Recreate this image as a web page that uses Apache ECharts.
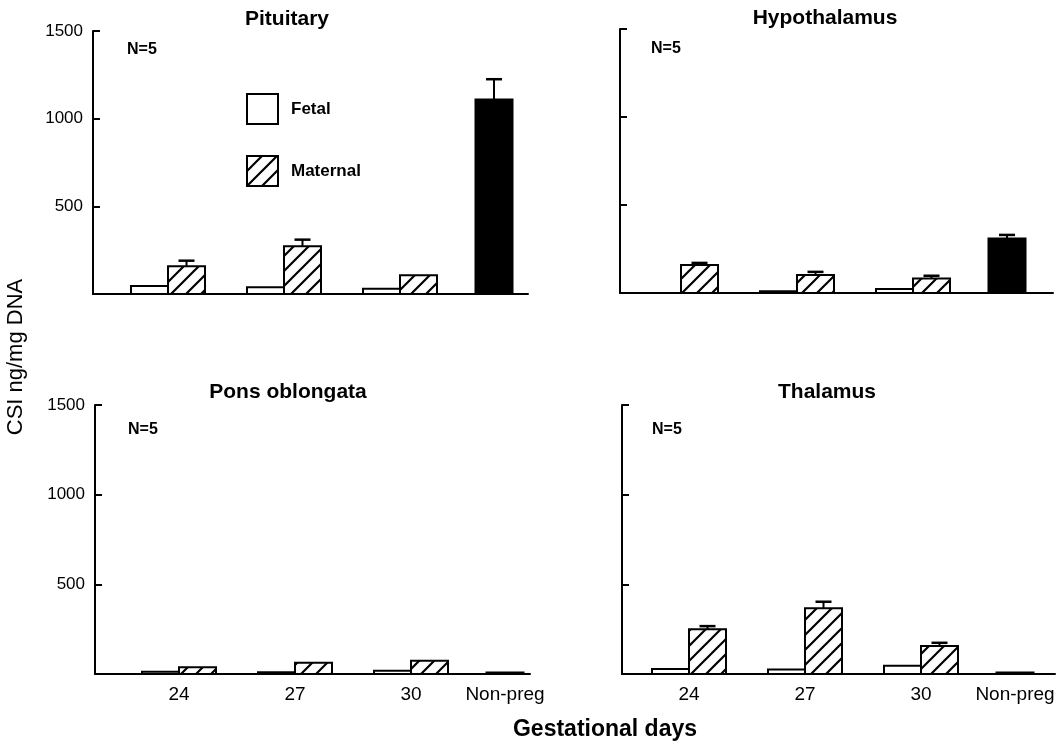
<!DOCTYPE html>
<html><head><meta charset="utf-8">
<script src="https://cdn.jsdelivr.net/npm/echarts@6/dist/echarts.min.js"></script>
<style>html,body{margin:0;padding:0;background:#fff}#c{width:1059px;height:742px}</style>
</head><body><div id="c"></div>
<script>
// ---- data ----
const categories = ['24', '27', '30', 'Non-preg'];
const panelTitles = ['Pituitary', 'Hypothalamus', 'Pons oblongata', 'Thalamus'];
const sampleSize = ['N=5', 'N=5', 'N=5', 'N=5'];
const yTicks = [0, 500, 1000, 1500];

const pituitaryFetal = [45, 38, 30];
const pituitaryMaternal = [158, 272, 107];
const pituitaryMaternalSE = [32, 38, 0];
const pituitaryNonPreg = [1110];
const pituitaryNonPregSE = [115];

const hypothalamusFetal = [0, 10, 23];
const hypothalamusMaternal = [159, 102, 83];
const hypothalamusMaternalSE = [12, 18, 15];
const hypothalamusNonPreg = [310];
const hypothalamusNonPregSE = [20];

const ponsFetal = [12, 10, 18];
const ponsMaternal = [37, 63, 74];
const ponsMaternalSE = [0, 0, 0];
const ponsNonPreg = [8];
const ponsNonPregSE = [0];

const thalamusFetal = [28, 25, 46];
const thalamusMaternal = [249, 366, 156];
const thalamusMaternalSE = [18, 37, 18];
const thalamusNonPreg = [8];
const thalamusNonPregSE = [0];

// ---- layout (axis coordinates of each category, not data) ----
const categoryPos = [0, 116, 232, 326];
const panels = [
  {fetal: pituitaryFetal, mat: pituitaryMaternal, matSE: pituitaryMaternalSE, np: pituitaryNonPreg, npSE: pituitaryNonPregSE,
   grid: {left: 93, top: 31, width: 435, height: 263}, xmin: -75, leftLabels: true, bottomLabels: false},
  {fetal: hypothalamusFetal, mat: hypothalamusMaternal, matSE: hypothalamusMaternalSE, np: hypothalamusNonPreg, npSE: hypothalamusNonPregSE,
   grid: {left: 620, top: 29, width: 433, height: 264}, xmin: -61, leftLabels: false, bottomLabels: false},
  {fetal: ponsFetal, mat: ponsMaternal, matSE: ponsMaternalSE, np: ponsNonPreg, npSE: ponsNonPregSE,
   grid: {left: 95, top: 405, width: 435, height: 269}, xmin: -84, leftLabels: true, bottomLabels: true},
  {fetal: thalamusFetal, mat: thalamusMaternal, matSE: thalamusMaternalSE, np: thalamusNonPreg, npSE: thalamusNonPregSE,
   grid: {left: 622, top: 405, width: 433, height: 269}, xmin: -67, leftLabels: false, bottomLabels: true}
];

// hatch pattern
const S = 15;
const pc = document.createElement('canvas');
pc.width = S; pc.height = S;
const g = pc.getContext('2d');
g.fillStyle = '#fff'; g.fillRect(0, 0, S, S);
g.strokeStyle = '#000'; g.lineWidth = 2.2;
g.beginPath();
g.moveTo(0, S); g.lineTo(S, 0);
g.moveTo(-2, 2); g.lineTo(2, -2);
g.moveTo(S - 2, S + 2); g.lineTo(S + 2, S - 2);
g.stroke();
const hatch = {image: pc, repeat: 'repeat'};

const BAR_W = 37;
const fills = {fetal: '#ffffff', maternal: hatch, np: '#000000'};

function makeRender(kind) {
  return function (params, api) {
    const x = api.value(0), v = api.value(1), e = api.value(2);
    if (!(v > 0)) return null;
    let x0, x1;
    if (kind === 'fetal') { x0 = x - BAR_W; x1 = x; }
    else if (kind === 'maternal') { x0 = x; x1 = x + BAR_W; }
    else { x0 = x - BAR_W / 2; x1 = x + BAR_W / 2; }
    const p0 = api.coord([x0, 0]);
    const p1 = api.coord([x1, v]);
    const children = [{
      type: 'rect',
      shape: {x: p0[0], y: p1[1], width: p1[0] - p0[0], height: p0[1] - p1[1]},
      style: {fill: fills[kind], stroke: '#000', lineWidth: 2}
    }];
    if (e > 0) {
      const pe = api.coord([x, v + e]);
      const cx = (p0[0] + p1[0]) / 2;
      children.push({type: 'line', shape: {x1: cx, y1: p1[1], x2: cx, y2: pe[1]}, style: {stroke: '#000', lineWidth: 2}});
      children.push({type: 'line', shape: {x1: cx - 8, y1: pe[1], x2: cx + 8, y2: pe[1]}, style: {stroke: '#000', lineWidth: 2.5}});
    }
    return {type: 'group', children: children};
  };
}

const grids = [], xAxes = [], yAxes = [], series = [];
panels.forEach(function (p, i) {
  grids.push(Object.assign({containLabel: false}, p.grid));
  xAxes.push({
    type: 'value', gridIndex: i, min: p.xmin, max: p.xmin + p.grid.width,
    axisLine: {show: true, onZero: false, lineStyle: {color: '#000', width: 2}},
    axisTick: {show: false}, splitLine: {show: false},
    axisLabel: {
      show: p.bottomLabels, customValues: categoryPos, margin: 11,
      color: '#000', fontSize: 19, fontFamily: 'Liberation Sans, Arial, sans-serif',
      formatter: function (val) { const k = categoryPos.indexOf(val); return k >= 0 ? categories[k] : ''; }
    }
  });
  yAxes.push({
    type: 'value', gridIndex: i, min: yTicks[0], max: yTicks[yTicks.length - 1], interval: 500,
    axisLine: {show: true, onZero: false, lineStyle: {color: '#000', width: 2}},
    axisTick: {show: true, inside: true, length: 7, lineStyle: {color: '#000', width: 2}},
    splitLine: {show: false},
    axisLabel: {
      show: p.leftLabels, margin: 10, color: '#000', fontSize: 17,
      fontFamily: 'Liberation Sans, Arial, sans-serif',
      formatter: function (val) { return val === 0 ? '' : String(val); }
    }
  });
  const fData = p.fetal.map(function (v, k) { return [categoryPos[k], v, 0]; });
  const mData = p.mat.map(function (v, k) { return [categoryPos[k], v, p.matSE[k]]; });
  const nData = p.np.map(function (v, k) { return [categoryPos[3], v, p.npSE[k]]; });
  series.push({type: 'custom', name: 'Fetal', xAxisIndex: i, yAxisIndex: i, data: fData,
    encode: {x: 0, y: 1}, renderItem: makeRender('fetal'), itemStyle: {color: '#fff', borderColor: '#000', borderWidth: 2}, silent: true});
  series.push({type: 'custom', name: 'Maternal', xAxisIndex: i, yAxisIndex: i, data: mData,
    encode: {x: 0, y: 1}, renderItem: makeRender('maternal'), itemStyle: {color: hatch, borderColor: '#000', borderWidth: 2}, silent: true});
  series.push({type: 'custom', name: 'Non-preg', xAxisIndex: i, yAxisIndex: i, data: nData,
    encode: {x: 0, y: 1}, renderItem: makeRender('np'), itemStyle: {color: '#000'}, silent: true});
});

const titlePos = [[287, 19], [825, 18], [288, 392], [827, 392]];
const nPos = [[127, 50], [651, 49], [128, 430], [652, 430]];
const graphics = [];
panelTitles.forEach(function (t, i) {
  graphics.push({type: 'text', x: titlePos[i][0], y: titlePos[i][1], silent: true,
    style: {text: t, align: 'center', verticalAlign: 'middle', fill: '#000', font: 'bold 21px "Liberation Sans", Arial, sans-serif'}});
  graphics.push({type: 'text', x: nPos[i][0], y: nPos[i][1], silent: true,
    style: {text: sampleSize[i], align: 'left', verticalAlign: 'middle', fill: '#000', font: 'bold 16px "Liberation Sans", Arial, sans-serif'}});
});
graphics.push({type: 'text', x: 16, y: 357, rotation: Math.PI / 2, silent: true,
  style: {text: 'CSI ng/mg DNA', align: 'center', verticalAlign: 'middle', fill: '#000', font: '22px "Liberation Sans", Arial, sans-serif'}});
graphics.push({type: 'text', x: 605, y: 730, silent: true,
  style: {text: 'Gestational days', align: 'center', verticalAlign: 'middle', fill: '#000', font: 'bold 23px "Liberation Sans", Arial, sans-serif'}});

const chart = echarts.init(document.getElementById('c'), null, {renderer: 'canvas'});
chart.setOption({
  animation: false,
  backgroundColor: '#fff',
  grid: grids, xAxis: xAxes, yAxis: yAxes, series: series,
  legend: {
    orient: 'vertical', left: 241, top: 88, itemWidth: 31, itemHeight: 30, itemGap: 30,
    selectedMode: false, icon: 'rect',
    textStyle: {color: '#000', fontSize: 17, fontWeight: 'bold', fontFamily: 'Liberation Sans, Arial, sans-serif', padding: [0, 0, 0, 8]},
    data: [
      {name: 'Fetal', icon: 'rect', itemStyle: {color: '#fff', borderColor: '#000', borderWidth: 2}},
      {name: 'Maternal', icon: 'rect', itemStyle: {color: hatch, borderColor: '#000', borderWidth: 2}}
    ]
  },
  graphic: graphics
});
</script>
</body></html>
